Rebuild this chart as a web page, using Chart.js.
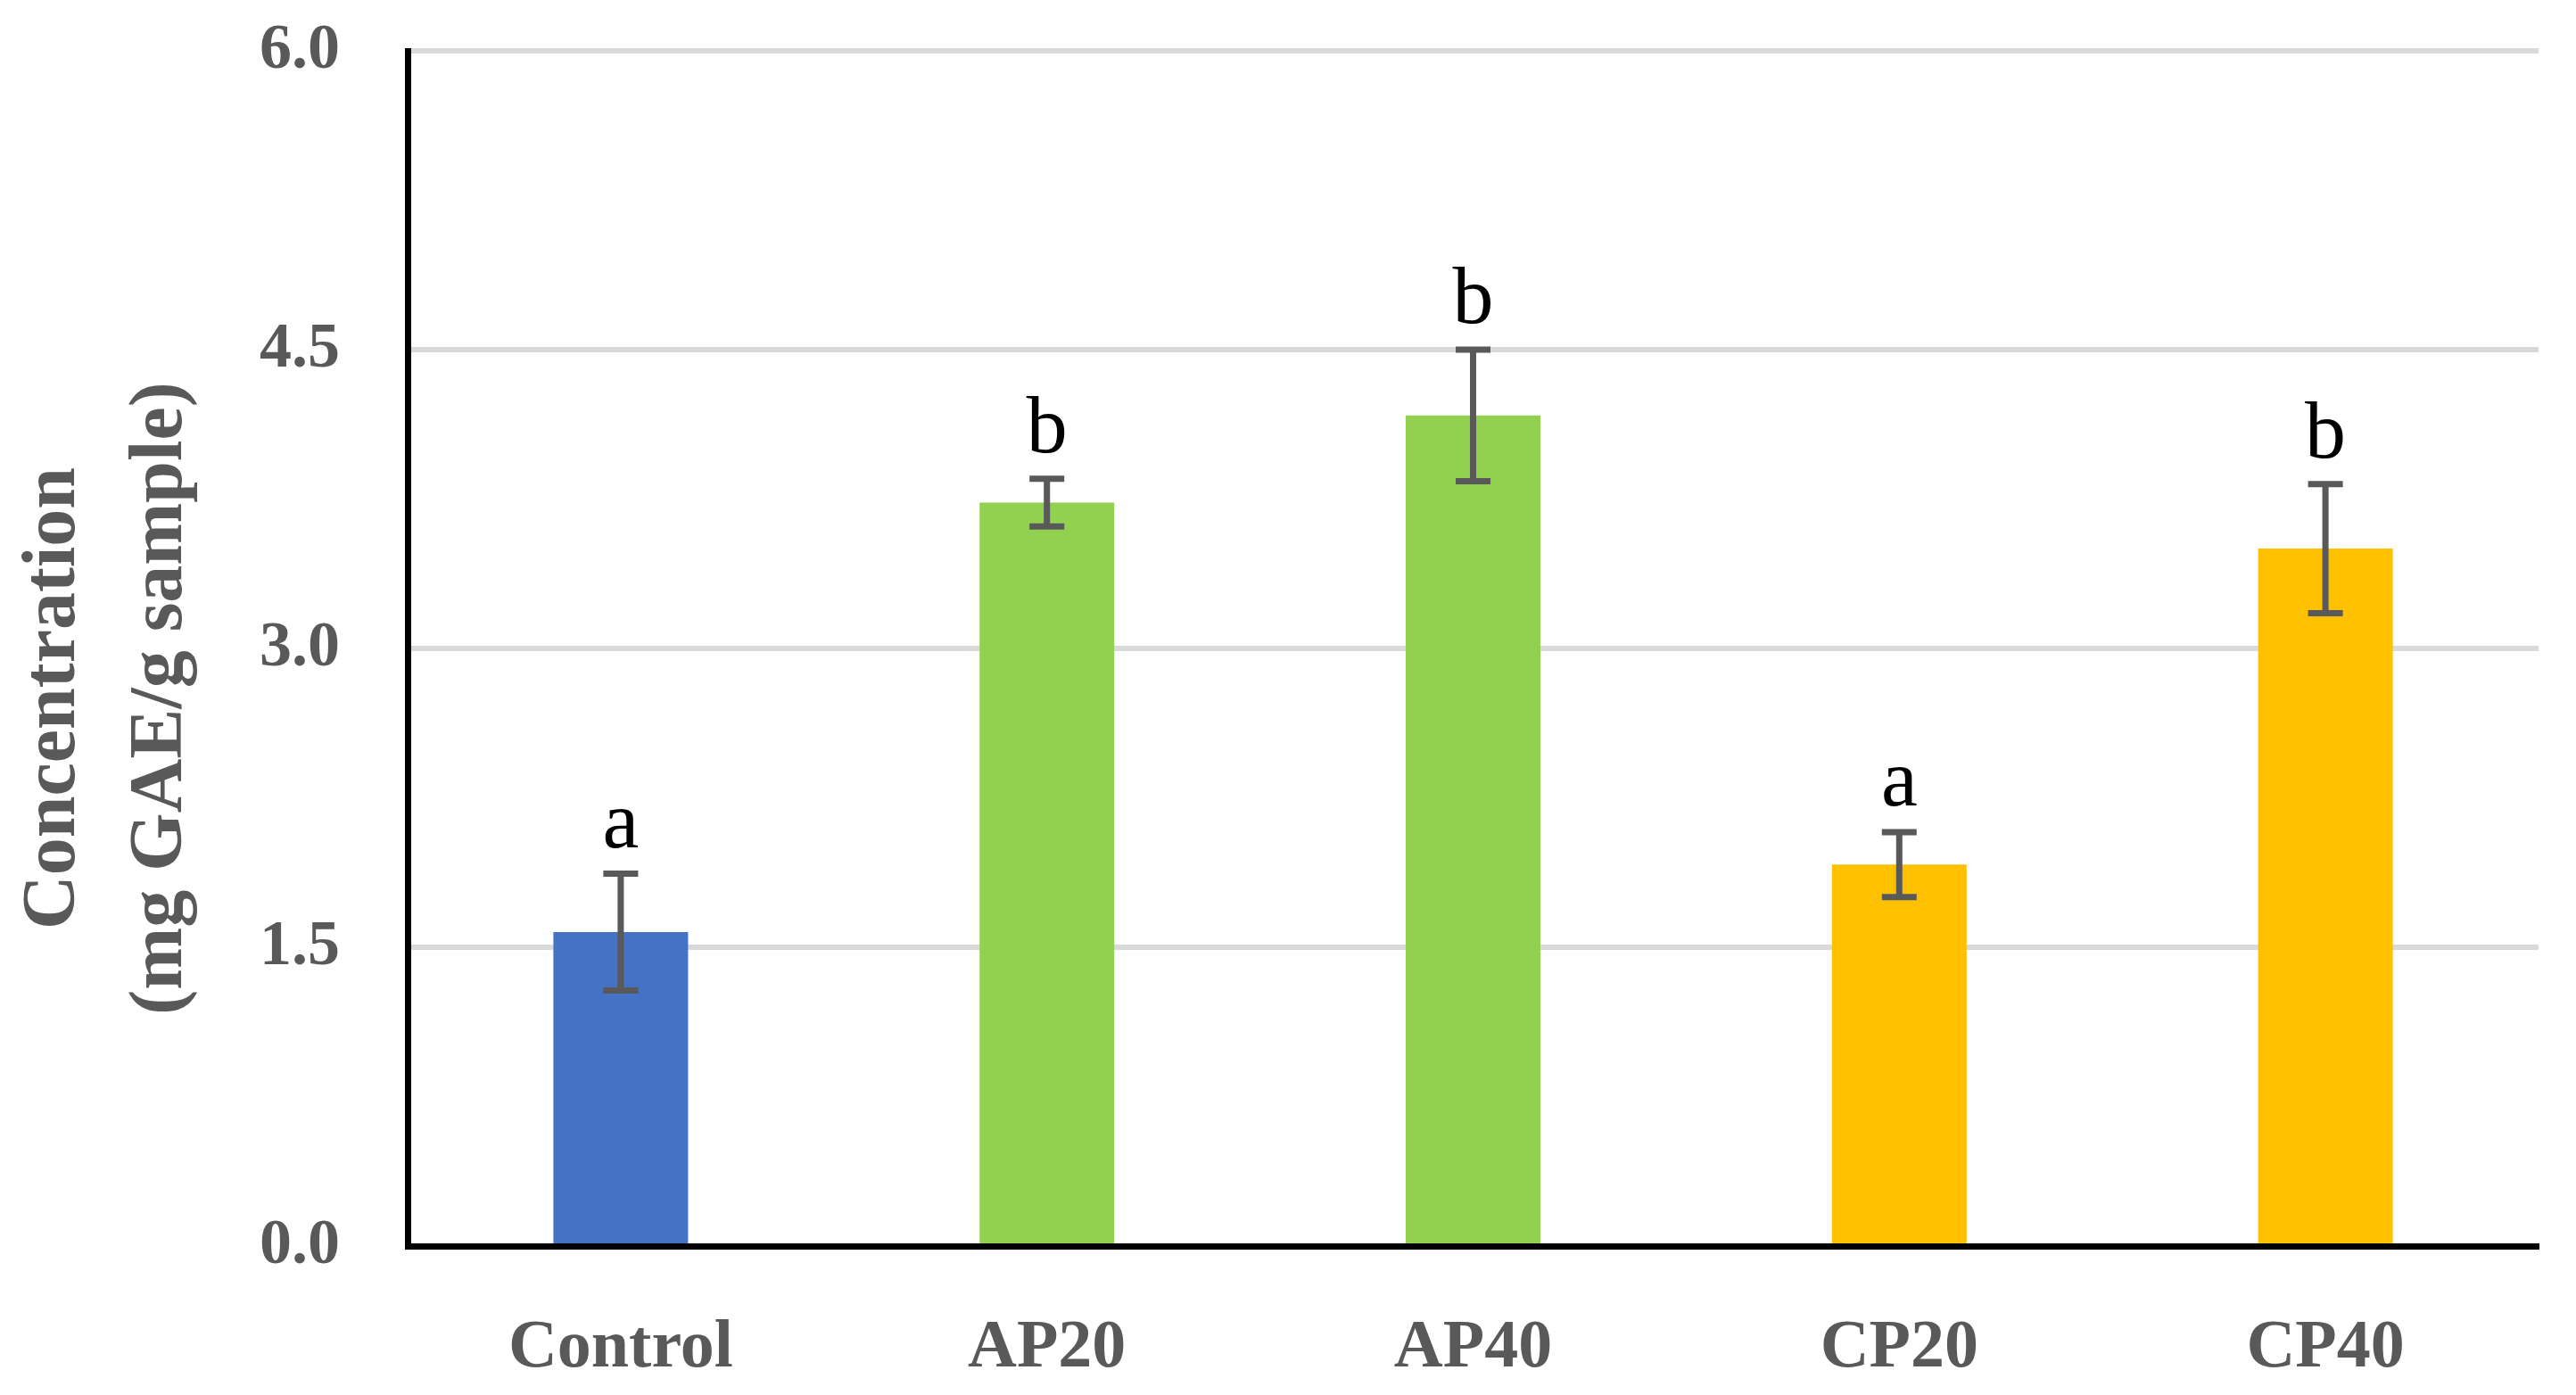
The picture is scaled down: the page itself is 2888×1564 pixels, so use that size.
<!DOCTYPE html>
<html>
<head>
<meta charset="utf-8">
<script src="https://cdn.jsdelivr.net/npm/chart.js@4.4.1/dist/chart.umd.min.js"></script>
<style>
  html, body { margin: 0; padding: 0; background: #ffffff; }
  #wrap { width: 2888px; height: 1564px; position: relative; }
</style>
</head>
<body>
<div id="wrap"><canvas id="c"></canvas></div>
<script>
// ---- data ----
const categories = ['Control', 'AP20', 'AP40', 'CP20', 'CP40'];
const values = [1.576, 3.732, 4.17, 1.915, 3.501];
const errors = [0.293, 0.12, 0.33, 0.163, 0.324];
const letters = ['a', 'b', 'b', 'a', 'b'];
const barColors = ['#4472C4', '#92D050', '#92D050', '#FFC000', '#FFC000'];
const yTitleLines = ['Concentration', '(mg GAE/g sample)'];
const yMin = 0, yMax = 6.0, yStep = 1.5;

const SERIF = '"Liberation Serif", "DejaVu Serif", serif';
const GREY = '#595959';

const errorBarPlugin = {
  id: 'errorBars',
  afterDatasetsDraw(chart) {
    const ctx = chart.ctx;
    const meta = chart.getDatasetMeta(0);
    const ys = chart.scales.y;
    ctx.save();
    meta.data.forEach((bar, i) => {
      const v = values[i], e = errors[i];
      const x = bar.x;
      const yt = ys.getPixelForValue(v + e);
      const yb = ys.getPixelForValue(v - e);
      ctx.strokeStyle = GREY;
      ctx.lineWidth = 7;
      ctx.lineCap = 'butt';
      ctx.beginPath();
      ctx.moveTo(x, yt); ctx.lineTo(x, yb);
      ctx.moveTo(x - 19.5, yt); ctx.lineTo(x + 19.5, yt);
      ctx.moveTo(x - 19.5, yb); ctx.lineTo(x + 19.5, yb);
      ctx.stroke();
      // significance letter
      ctx.fillStyle = '#000000';
      ctx.font = '92px ' + SERIF;
      ctx.textAlign = 'center';
      ctx.textBaseline = 'alphabetic';
      ctx.fillText(letters[i], x, yt - 30);
    });
    ctx.restore();
  }
};

const yTitlePlugin = {
  id: 'yTitle',
  afterDraw(chart) {
    const ctx = chart.ctx;
    ctx.save();
    ctx.fillStyle = GREY;
    ctx.font = 'bold 84px ' + SERIF;
    ctx.textAlign = 'center';
    ctx.textBaseline = 'middle';
    const xs = [61, 181];
    yTitleLines.forEach((t, i) => {
      ctx.save();
      ctx.translate(xs[i], 783);
      ctx.rotate(-Math.PI / 2);
      ctx.fillText(t, 0, 0);
      ctx.restore();
    });
    ctx.restore();
  }
};

new Chart(document.getElementById('c'), {
  type: 'bar',
  data: {
    labels: categories,
    datasets: [{
      data: values,
      backgroundColor: barColors,
      borderWidth: 0,
      barPercentage: 0.316,
      categoryPercentage: 1.0
    }]
  },
  options: {
    responsive: true,
    maintainAspectRatio: false,
    devicePixelRatio: 1,
    animation: false,
    layout: { padding: { top: 57, right: 42, bottom: 0, left: 0 } },
    plugins: {
      legend: { display: false },
      tooltip: { enabled: false }
    },
    scales: {
      x: {
        grid: { display: false, drawTicks: false },
        border: { display: true, color: '#000000', width: 7 },
        ticks: {
          color: GREY,
          font: { family: SERIF, size: 76, weight: 'bold' },
          padding: 70,
          maxRotation: 0
        },
        afterFit(scale) {
          scale.height = 167;
          scale.paddingLeft = 0; scale.paddingRight = 0;
        }
      },
      y: {
        min: yMin,
        max: yMax,
        grid: { color: '#D9D9D9', lineWidth: 6, drawTicks: false },
        border: { display: true, color: '#000000', width: 7 },
        ticks: {
          stepSize: yStep,
          color: GREY,
          font: { family: SERIF, size: 72, weight: 'bold' },
          padding: 76,
          callback: (v) => Number(v).toFixed(1)
        },
        afterFit(scale) {
          scale.width = 457;
          scale.paddingTop = 0; scale.paddingBottom = 0;
        }
      }
    }
  },
  plugins: [errorBarPlugin, yTitlePlugin]
});
</script>
</body>
</html>
